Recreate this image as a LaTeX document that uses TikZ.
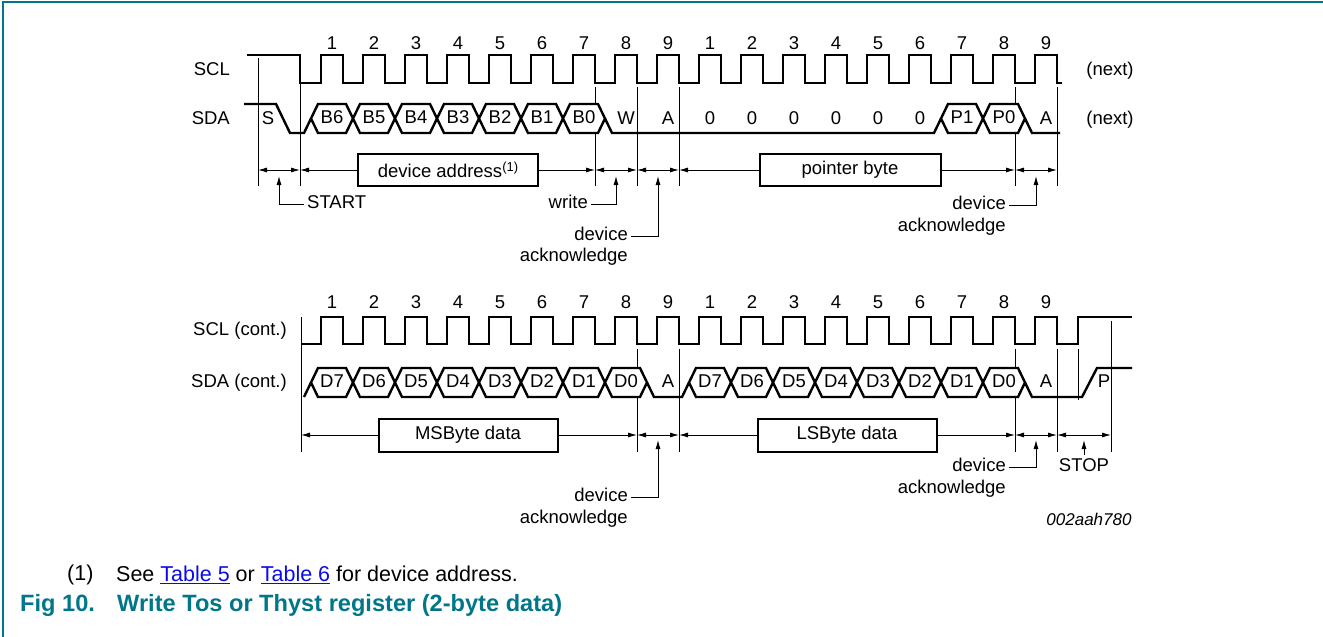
\documentclass[tikz,border=0pt]{standalone}
\usepackage{fontspec}
\setmainfont{Liberation Sans}
\usetikzlibrary{arrows.meta,positioning}
\definecolor{figteal}{RGB}{0,118,138}
\definecolor{linkblue}{RGB}{10,10,235}

% one data bit on a bus: left crossing, high y, low y, text, name
\newcommand{\hexbit}[5]{%
	\draw[wave,fill=white] ({#1},{(#2+#3)/2}) -- ({#1+7},#2) -- ({#1+35},#2) -- ({#1+42},{(#2+#3)/2}) -- ({#1+35},#3) -- ({#1+7},#3) -- cycle;
	\node[lbl] (#5) at ({#1+21},{(#2+#3)/2}) {#4};
}
\newcommand{\tablelink}[1]{\textcolor{linkblue}{\underline{#1}}}
\newcommand{\noteref}[1]{\raisebox{6pt}{\fontsize{13}{15}\selectfont(#1)}}

\begin{document}
\begin{tikzpicture}[x=1pt,y=-1pt,
		lbl/.style={inner sep=3pt,font=\fontsize{18.5}{22}\selectfont,text height=13.5pt,text depth=4pt},
		wave/.style={line width=2.4pt},
		guide/.style={line width=0.9pt},
		box/.style={draw,line width=2pt,fill=white,minimum width=180pt,minimum height=32pt,inner sep=0pt,font=\fontsize{18.5}{22}\selectfont},
		arr/.style={line width=0.9pt,-{Latex[length=9pt,width=5pt]}},
		dim/.style={line width=0.9pt,{Latex[length=9pt,width=5pt]}-{Latex[length=9pt,width=5pt]}},
		frame/.style={figteal,line width=2pt}]
	\useasboundingbox (0,0) rectangle (1323,637);
	\draw[frame] (3,637) -- (3,2) -- (1323,2);

	\begin{scope}
		%\draw[style=help lines] (0,0) grid[step=50] (1323,300);
		\node[lbl,anchor=east] (scl) at (233,71) {SCL};
		\node[lbl,anchor=east] (sda) at (233,120) {SDA};
		\foreach \k in {0,...,17} {
			\pgfmathtruncatemacro\n{mod(\k,9)+1}
			\node[lbl] (ta\k) at ({332+42*\k},45) {\n};
		}
		\draw[guide] (258,58) -- (258,186);
		\draw[guide] (300,83) -- (300,186);
		\foreach \x in {595,637,679,1015,1057} \draw[guide] (\x,87) -- (\x,186);
		\draw[wave] (247,55) -- (300,55) -- (300,83)
			\foreach \k in {0,...,17} { -- ({321+42*\k},83) -- ++(0,-28) -- ++(22,0) -- ++(0,28) } -- (1062,83);
		\draw[wave] (244,104) -- (276,104) -- (290,133) -- (304,133) -- (311,118.5);
		\draw[wave] (605,118.5) -- (612,133) -- (934,133) -- (941,118.5);
		\draw[wave] (1025,118.5) -- (1032,133) -- (1060,133);
		\foreach \b [count=\i from 0] in {B6,B5,B4,B3,B2,B1,B0} {\hexbit{311+42*\i}{104}{133}{\b}{a\b}}
		\hexbit{941}{104}{133}{P1}{aP1}
		\hexbit{983}{104}{133}{P0}{aP0}
		\node[lbl] (s) at (268,120) {S};
		\node[lbl] (w) at (626,120) {W};
		\node[lbl] (ack1) at (668,120) {A};
		\foreach \i in {0,...,5} \node[lbl] (z\i) at ({710+42*\i},120) {0};
		\node[lbl] (ack2) at (1046,120) {A};
		\node[lbl] (nxt1) at (1110,71) {(next)};
		\node[lbl] (nxt2) at (1110,120) {(next)};

		\node[box] (addr) at (448,170) {device address\noteref{1}};
		\node[box,minimum width=181pt] (ptrb) at (850,170) {pointer byte};
		\draw[dim] (258,170) -- (300,170);
		\draw[arr] (addr.west) -- (300,170);
		\draw[arr] (addr.east) -- (595,170);
		\draw[dim] (595,170) -- (637,170);
		\draw[dim] (637,170) -- (679,170);
		\draw[arr] (ptrb.west) -- (679,170);
		\draw[arr] (ptrb.east) -- (1015,170);
		\draw[dim] (1015,170) -- (1057,170);

		\node[lbl,anchor=west] (start) at (304,204) {START};
		\draw[arr] (start.west) -| (279,176);
		\node[lbl,anchor=east] (wr) at (591,204) {write};
		\draw[arr] (wr.east) -| (616,176);
		\node[lbl,anchor=east] (dev1) at (631,236) {device};
		\node[lbl,anchor=east] (ackt1) at (631,257) {acknowledge};
		\draw[arr] (dev1.east) -| (658,176);
		\node[lbl,anchor=east] (dev2) at (1009,205) {device};
		\node[lbl,anchor=east] (ackt2) at (1009,227) {acknowledge};
		\draw[arr] (dev2.east) -| (1036,176);
	\end{scope}

	\begin{scope}
		\node[lbl,anchor=east] (scl2) at (290,331) {SCL (cont.)};
		\node[lbl,anchor=east] (sda2) at (290,383) {SDA (cont.)};
		\foreach \k in {0,...,17} {
			\pgfmathtruncatemacro\n{mod(\k,9)+1}
			\node[lbl] (tb\k) at ({332+42*\k},304) {\n};
		}
		\draw[guide] (301,317) -- (301,452);
		\foreach \x in {637,679,1015,1057} \draw[guide] (\x,349) -- (\x,452);
		\draw[guide] (1078,349) -- (1078,400);
		\draw[guide] (1111,321) -- (1111,452);
		\draw[wave] (301,344)
			\foreach \k in {0,...,17} { -- ({321+42*\k},344) -- ++(0,-27) -- ++(22,0) -- ++(0,27) } -- (1078,344) -- (1078,317) -- (1132,317);
		\draw[wave] (304,397) -- (311,382.5);
		\draw[wave] (647,382.5) -- (654,397) -- (682,397) -- (689,382.5);
		\draw[wave] (1025,382.5) -- (1032,397) -- (1082,397) -- (1097,368) -- (1132,368);
		\foreach \b [count=\i from 0] in {D7,D6,D5,D4,D3,D2,D1,D0} {\hexbit{311+42*\i}{368}{397}{\b}{m\b}}
		\foreach \b [count=\i from 0] in {D7,D6,D5,D4,D3,D2,D1,D0} {\hexbit{689+42*\i}{368}{397}{\b}{l\b}}
		\node[lbl] (ack3) at (668,383) {A};
		\node[lbl] (ack4) at (1046,383) {A};
		\node[lbl] (p) at (1104,383) {P};

		\node[box,minimum width=179pt,minimum height=33pt] (msb) at (468,435) {MSByte data};
		\node[box,minimum width=179pt,minimum height=33pt] (lsb) at (847,435) {LSByte data};
		\draw[arr] (msb.west) -- (301,435);
		\draw[arr] (msb.east) -- (637,435);
		\draw[dim] (637,435) -- (679,435);
		\draw[arr] (lsb.west) -- (679,435);
		\draw[arr] (lsb.east) -- (1015,435);
		\draw[dim] (1015,435) -- (1057,435);
		\draw[dim] (1057,435) -- (1111,435);

		\node[lbl,anchor=east] (dev3) at (631,497) {device};
		\node[lbl,anchor=east] (ackt3) at (631,519) {acknowledge};
		\draw[arr] (dev3.east) -| (658,440);
		\node[lbl,anchor=east] (dev4) at (1009,467) {device};
		\node[lbl,anchor=east] (ackt4) at (1009,489) {acknowledge};
		\draw[arr] (dev4.east) -| (1036,440);
		\node[lbl] (stop) at (1084,467) {STOP};
		\draw[arr] (stop.north) -- (1084,440);
		\node[lbl,font=\fontsize{17}{20}\selectfont\itshape] (figid) at (1089,521) {002aah780};
	\end{scope}

	\node[anchor=west,inner sep=0pt,font=\fontsize{21.5}{25}\selectfont] (fnum) at (67,575) {(1)};
	\node[anchor=west,inner sep=0pt,font=\fontsize{21.5}{25}\selectfont] (fnote) at (116,575) {See \tablelink{Table 5} or \tablelink{Table 6} for device address.};
	\node[anchor=west,inner sep=0pt,text=figteal,font=\fontsize{23.6}{27}\selectfont\bfseries] (fig) at (20,605) {Fig 10.};
	\node[anchor=west,inner sep=0pt,text=figteal,font=\fontsize{23.6}{27}\selectfont\bfseries] (cap) at (117,605) {Write Tos or Thyst register (2-byte data)};
\end{tikzpicture}
\end{document}
